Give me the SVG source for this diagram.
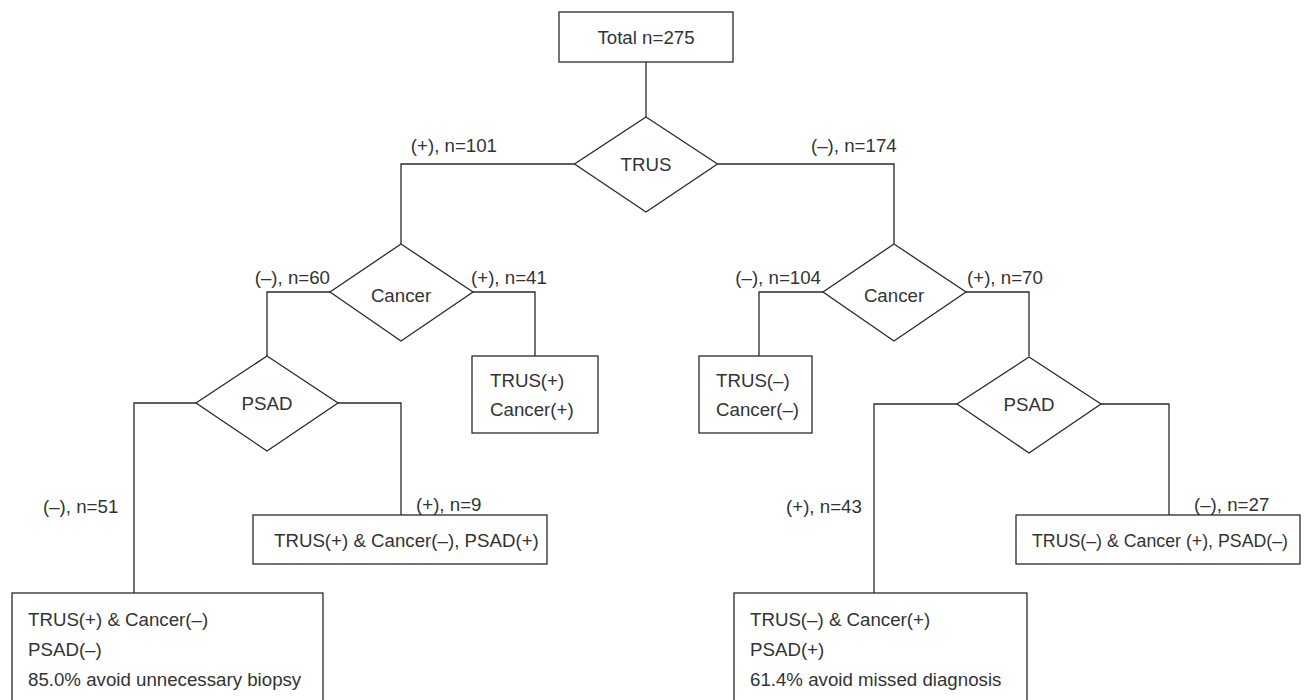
<svg xmlns="http://www.w3.org/2000/svg" width="1304" height="700" viewBox="0 0 1304 700">
<style>
  .box { fill: #ffffff; stroke: #2a2a2a; stroke-width: 1.3; }
  .dia { fill: #ffffff; stroke: #2a2a2a; stroke-width: 1.3; }
  .conn { fill: none; stroke: #2a2a2a; stroke-width: 1.3; }
  text { font-family: "Liberation Sans", Arial, Helvetica, sans-serif; font-size: 18.7px; fill: #333333; }
  .c { text-anchor: middle; }
  .e { text-anchor: end; }
</style>
<rect width="1304" height="700" fill="#ffffff"/>
<g id="connectors">
  <path class="conn" d="M646,62 V117"/>
  <path class="conn" d="M574.5,164 H401 V244"/>
  <path class="conn" d="M717.5,164 H894 V244"/>
  <path class="conn" d="M330,292 H267 V356"/>
  <path class="conn" d="M473,292 H535 V356"/>
  <path class="conn" d="M823,292 H759 V356"/>
  <path class="conn" d="M966,292 H1029 V356"/>
  <path class="conn" d="M196,403 H134 V593"/>
  <path class="conn" d="M338,403 H401 V515"/>
  <path class="conn" d="M957,404 H874 V593"/>
  <path class="conn" d="M1101,404 H1169 V515"/>
  <text x="497" y="152" class="e">(+), n=101</text>
  <text x="811" y="152">(–), n=174</text>
  <text x="330" y="284" class="e">(–), n=60</text>
  <text x="471" y="284">(+), n=41</text>
  <text x="821" y="284" class="e">(–), n=104</text>
  <text x="967" y="284">(+), n=70</text>
  <text x="43" y="513">(–), n=51</text>
  <text x="416" y="511">(+), n=9</text>
  <text x="786" y="513">(+), n=43</text>
  <text x="1194" y="511">(–), n=27</text>
</g>
<g id="total">
  <rect class="box" x="559" y="12" width="174" height="50"/>
  <text x="646" y="44" class="c">Total n=275</text>
</g>
<g id="trus">
  <polygon class="dia" points="646,117 717.5,164 646,212 574.5,164"/>
  <text x="646" y="171" class="c">TRUS</text>
</g>
<g id="cancer-left">
  <polygon class="dia" points="401,244 473,292 401,341 330,292"/>
  <text x="401" y="302" class="c">Cancer</text>
</g>
<g id="cancer-right">
  <polygon class="dia" points="894,244 966,292 894,341 823,292"/>
  <text x="894" y="302" class="c">Cancer</text>
</g>
<g id="psad-left">
  <polygon class="dia" points="267,356 338,403 267,451 196,403"/>
  <text x="267" y="410" class="c">PSAD</text>
</g>
<g id="psad-right">
  <polygon class="dia" points="1029,357 1101,404 1029,453 957,404"/>
  <text x="1029" y="411" class="c">PSAD</text>
</g>
<g id="box-trus-pos-cancer-pos">
  <rect class="box" x="472" y="356" width="126" height="77"/>
  <text x="490" y="387">TRUS(+)</text>
  <text x="490" y="416">Cancer(+)</text>
</g>
<g id="box-trus-neg-cancer-neg">
  <rect class="box" x="699" y="356" width="113" height="77"/>
  <text x="716" y="387">TRUS(–)</text>
  <text x="716" y="416">Cancer(–)</text>
</g>
<g id="box-psad-pos-left">
  <rect class="box" x="253" y="515" width="294" height="49"/>
  <text x="274" y="547">TRUS(+) &amp; Cancer(–), PSAD(+)</text>
</g>
<g id="box-psad-neg-right">
  <rect class="box" x="1016" y="515" width="284" height="49"/>
  <text x="1032" y="547" textLength="256" lengthAdjust="spacingAndGlyphs">TRUS(–) &amp; Cancer (+), PSAD(–)</text>
</g>
<g id="box-avoid-biopsy">
  <rect class="box" x="12" y="593" width="311" height="115"/>
  <text x="28" y="626">TRUS(+) &amp; Cancer(–)</text>
  <text x="28" y="656">PSAD(–)</text>
  <text x="28" y="686">85.0% avoid unnecessary biopsy</text>
</g>
<g id="box-avoid-missed">
  <rect class="box" x="734" y="593" width="293" height="115"/>
  <text x="750" y="626">TRUS(–) &amp; Cancer(+)</text>
  <text x="750" y="656">PSAD(+)</text>
  <text x="750" y="686">61.4% avoid missed diagnosis</text>
</g>
</svg>
